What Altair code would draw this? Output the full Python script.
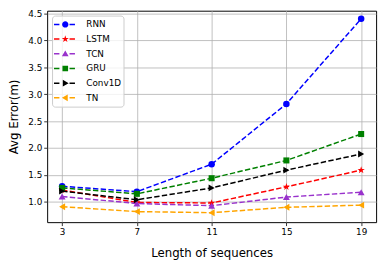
import altair as alt
import pandas as pd

lengths = [3, 7, 11, 15, 19]
series = ["RNN", "LSTM", "TCN", "GRU", "Conv1D", "TN"]
rnn = [1.29, 1.19, 1.70, 2.82, 4.40]
lstm = [1.22, 0.99, 0.98, 1.28, 1.59]
tcn = [1.10, 0.97, 0.93, 1.09, 1.18]
gru = [1.26, 1.15, 1.44, 1.77, 2.26]
conv1d = [1.20, 1.04, 1.26, 1.59, 1.89]
tn = [0.91, 0.82, 0.80, 0.90, 0.94]
colors = ["#0000ff", "#ff0000", "#9932cc", "#008000", "#000000", "#ffa500"]
x_ticks = [3, 7, 11, 15, 19]
y_ticks = [1.0, 1.5, 2.0, 2.5, 3.0, 3.5, 4.0, 4.5]

values = [rnn, lstm, tcn, gru, conv1d, tn]

STAR = ("M0,-1L0.225,-0.309L0.951,-0.309L0.363,0.118L0.588,0.809L0,0.382"
        "L-0.588,0.809L-0.363,0.118L-0.951,-0.309L-0.225,-0.309Z")
plot_shapes = ["circle", STAR, "triangle-up", "square", "triangle-right", "triangle-left"]
plot_sizes = [44, 62, 50, 38, 50, 50]

DASHES = "M-1,-0.065H-0.52V0.065H-1Z M0.38,-0.065H0.86V0.065H0.38Z "
legend_markers = [
    "M-0.28,0A0.28,0.28 0 1,1 0.28,0A0.28,0.28 0 1,1 -0.28,0Z",
    "M0,-0.33L0.074,-0.102L0.314,-0.102L0.12,0.039L0.194,0.267L0,0.126"
    "L-0.194,0.267L-0.12,0.039L-0.314,-0.102L-0.074,-0.102Z",
    "M0,-0.3L0.3,0.22L-0.3,0.22Z",
    "M-0.25,-0.25H0.25V0.25H-0.25Z",
    "M0.3,0L-0.22,0.3L-0.22,-0.3Z",
    "M-0.3,0L0.22,-0.3L0.22,0.3Z",
]
legend_shapes = [DASHES + m for m in legend_markers]

rows = []
for s, vals in zip(series, values):
    for L, v in zip(lengths, vals):
        rows.append({"series": s, "length": L, "err": v})
df = pd.DataFrame(rows)

x_enc = alt.X("length:Q",
              scale=alt.Scale(domain=[2.2, 19.8], nice=False, zero=False),
              axis=alt.Axis(values=x_ticks, title="Length of sequences", format="d"))
y_enc = alt.Y("err:Q",
              scale=alt.Scale(domain=[0.624, 4.55], nice=False, zero=False),
              axis=alt.Axis(values=y_ticks, title="Avg Error(m)", format=".1f"))

layers = []
for s, c, shp, sz in zip(series, colors, plot_shapes, plot_sizes):
    base = alt.Chart(df).transform_filter(alt.datum.series == s)
    layers.append(base.mark_line(color=c, strokeWidth=1.5, strokeDash=[5.5, 2.4])
                  .encode(x=x_enc, y=y_enc))
    layers.append(base.mark_point(color=c, filled=True, opacity=1, shape=shp, size=sz)
                  .encode(x=x_enc, y=y_enc))

lab = "datum.label + '\u00a0\u00a0'"
legend_layer = alt.Chart(df).transform_filter("false").mark_point(
    filled=True, opacity=1, size=529
).encode(
    x=x_enc, y=y_enc,
    color=alt.Color("series:N", scale=alt.Scale(domain=series, range=colors),
                    legend=alt.Legend(title=None, labelExpr=lab)),
    shape=alt.Shape("series:N", scale=alt.Scale(domain=series, range=legend_shapes),
                    legend=alt.Legend(title=None, labelExpr=lab)),
)
layers.append(legend_layer)

chart = alt.layer(*layers).properties(
    width=336, height=216,
    autosize=alt.AutoSizeParams(type="none"),
    padding={"left": 40, "top": 0, "right": 5, "bottom": 41},
).configure_view(
    stroke="#000000", strokeWidth=1
).configure_axis(
    labelFont="DejaVu Sans", labelFontSize=9, labelColor="#000000",
    titleFont="DejaVu Sans", titleFontSize=12, titleFontWeight="normal", titleColor="#000000",
    tickColor="#000000", tickSize=3.5, tickWidth=0.8,
    grid=True, gridColor="#b0b0b0", gridWidth=0.8,
    domain=False, labelPadding=2,
).configure_axisX(titlePadding=12).configure_axisY(titlePadding=7).configure_legend(
    orient="top-left", offset=5, padding=2,
    fillColor="rgba(255,255,255,0.8)", strokeColor="#cccccc", cornerRadius=3,
    labelFont="DejaVu Sans", labelFontSize=9, labelColor="#000000",
    labelOffset=10, clipHeight=14, rowPadding=1, symbolSize=529,
    symbolStrokeWidth=0,
)

chart.save("out.html", embed_options={"renderer": "svg", "actions": False})
